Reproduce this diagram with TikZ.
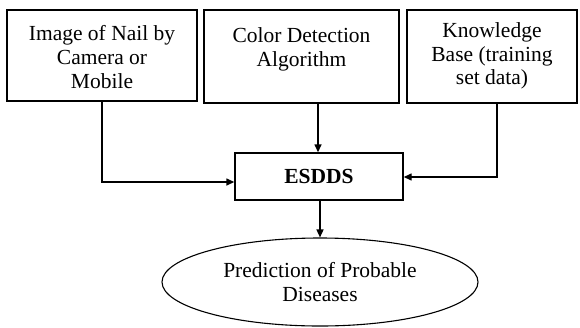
\documentclass[tikz,border=0pt]{standalone}
\usepackage{fontspec}
\setmainfont{Liberation Serif}
\usetikzlibrary{shapes.geometric,arrows.meta}
\begin{document}
\begin{tikzpicture}[x=1pt,y=-1pt,
  txt/.style={font=\fontsize{21.5}{23.8}\selectfont, align=center},
  box/.style={draw, line width=1.4pt, inner sep=0pt},
  conn/.style={line width=1.4pt, -{Triangle[length=8pt,width=7pt]}}]
\useasboundingbox (0,0) rectangle (580,327);
\draw[box] (7,10) rectangle (197,101);
\node[txt] (a) at (102,57) {Image of Nail by\\Camera or\\Mobile};
\draw[box] (204,10) rectangle (399,103);
\node[txt] (b) at (301.5,49) {Color Detection\\Algorithm};
\draw[box] (407,10) rectangle (577,103);
\node[txt] (c) at (492,56) {Knowledge\\Base (training\\set data)};
\node[box, minimum width=168pt, minimum height=47pt, font=\fontsize{21.5}{23.8}\selectfont\bfseries] (e) at (319,176.5) {ESDDS};
\node[draw, line width=1.1pt, ellipse, minimum width=316pt, minimum height=88pt, txt] (p) at (320,282) {Prediction of Probable\\Diseases};
\coordinate (a1) at (102,101);
\coordinate (a2) at (102,182);
\coordinate (c1) at (497,103);
\coordinate (c2) at (497,177);
\coordinate (b1) at (318,103);
\draw[conn] (a1) -- (a2) -- (e.west |- a2);
\draw[conn] (c1) -- (c2) -- (e.east |- c2);
\draw[conn] (b1) -- (b1 |- e.north);
\draw[conn] (e.south -| 320,0) -- (p.north -| 320,0);
\end{tikzpicture}
\end{document}
